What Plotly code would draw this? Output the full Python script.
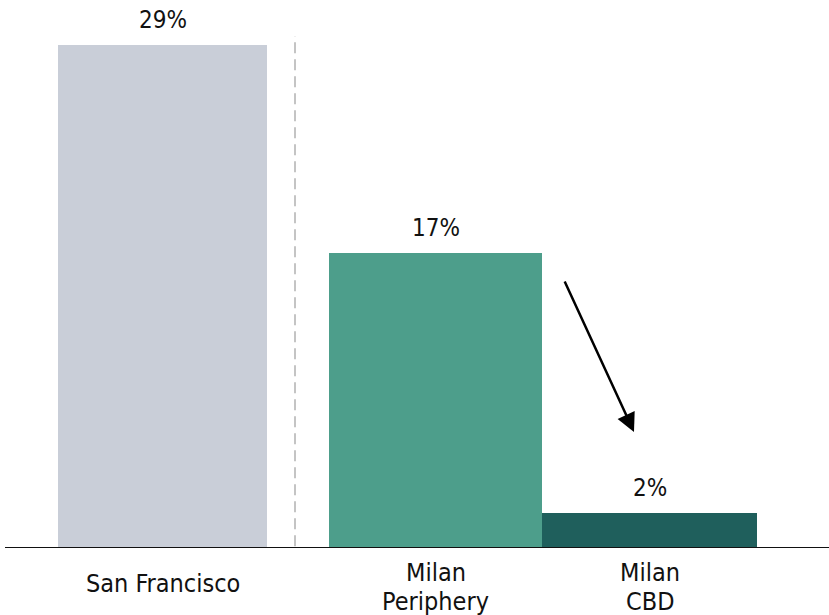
import plotly.graph_objects as go

# Share of office stock by market
categories = ["San Francisco", "Milan<br>Periphery", "Milan<br>CBD"]
shares = [29, 17, 2]
value_labels = ["29%", "17%", "2%"]

# Layout constants (x axis runs in pixel-like units across the page)
bar_centers = [162.5, 435.5, 649.5]
bar_widths = [209, 213, 215]
bar_colors = ["#c9ced8", "#4d9e8b", "#1f5f5c"]

FONT = "DejaVu Sans Condensed, DejaVu Sans"
VALUE_SIZE = 24
CAT_SIZE = 25
CAT_LINE_GAP = 29     # pixels between stacked lines of a category label

PLOT_H = 548          # pixel height of plot area
PX_PER_UNIT = 17.35   # pixels per percentage point
Y_MAX = PLOT_H / PX_PER_UNIT


def y_of(px):
    """Convert a page pixel row to a y-axis value."""
    return (PLOT_H - px) / PX_PER_UNIT


fig = go.Figure(
    go.Bar(
        x=bar_centers,
        y=shares,
        width=bar_widths,
        marker=dict(color=bar_colors, line=dict(width=0)),
        hoverinfo="skip",
    )
)

annotations = []
for xc, v, lab in zip(bar_centers, shares, value_labels):
    annotations.append(dict(
        x=xc, y=v, xref="x", yref="y", text=lab, showarrow=False,
        yanchor="bottom", yshift=9,
        font=dict(family=FONT, size=VALUE_SIZE, color="#111111"),
    ))

# Category names under the baseline; multi-line names are stacked tightly,
# single-line names sit centred against the two-line block.
for xc, cat in zip(bar_centers, categories):
    lines = cat.split("<br>")
    first_shift = -9 if len(lines) > 1 else -20
    for i, line in enumerate(lines):
        annotations.append(dict(
            x=xc, y=0, xref="x", yref="y", text=line, showarrow=False,
            yanchor="top", yshift=first_shift - i * CAT_LINE_GAP,
            borderpad=0,
            font=dict(family=FONT, size=CAT_SIZE, color="#111111"),
        ))

# Arrow from the periphery bar down toward the CBD bar
annotations.append(dict(
    x=634, y=y_of(432), ax=564, ay=y_of(280),
    xref="x", yref="y", axref="x", ayref="y",
    text="", showarrow=True, arrowhead=2, arrowsize=1.5,
    arrowwidth=2.5, arrowcolor="#000000", standoff=0,
))

shapes = [
    # divider between San Francisco and Milan
    dict(type="line", xref="x", yref="y", x0=295, x1=295, y0=0.1, y1=y_of(36),
         line=dict(color="#c4c4c4", width=2, dash="11px,6px")),
    # baseline
    dict(type="line", xref="x", yref="y", x0=5, x1=829, y0=0, y1=0,
         line=dict(color="#111111", width=2)),
]

fig.update_layout(
    width=829, height=615,
    margin=dict(l=0, r=0, t=0, b=67),
    paper_bgcolor="white", plot_bgcolor="white",
    showlegend=False,
    xaxis=dict(range=[0, 829], visible=False, fixedrange=True),
    yaxis=dict(range=[0, Y_MAX], visible=False, fixedrange=True),
    annotations=annotations,
    shapes=shapes,
    bargap=0,
)

fig.write_html("out.html", config={"displayModeBar": False})
